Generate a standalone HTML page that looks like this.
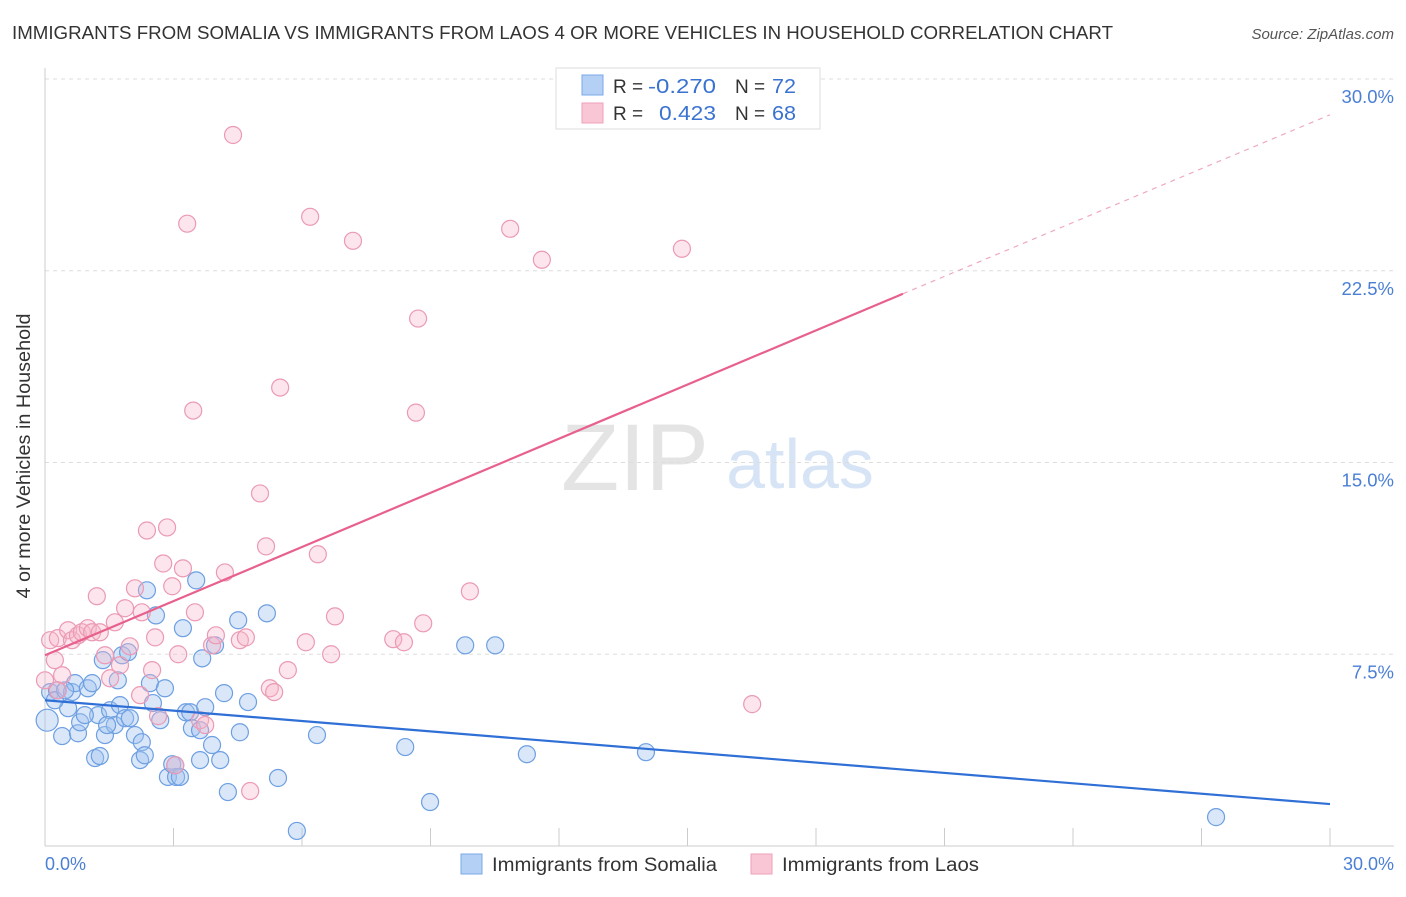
<!DOCTYPE html>
<html><head><meta charset="utf-8"><style>
body{margin:0;background:#fff;font-family:"Liberation Sans",sans-serif}
svg text{font-family:"Liberation Sans",sans-serif}
</style></head><body>
<svg id="chart" width="1406" height="892" xmlns="http://www.w3.org/2000/svg">
<text x="12" y="39" font-size="18" fill="#333" textLength="1101" lengthAdjust="spacingAndGlyphs">IMMIGRANTS FROM SOMALIA VS IMMIGRANTS FROM LAOS 4 OR MORE VEHICLES IN HOUSEHOLD CORRELATION CHART</text>
<text x="1394" y="39" font-size="15" fill="#555" font-style="italic" text-anchor="end">Source: ZipAtlas.com</text>
<text x="635" y="490" font-size="95" fill="#e4e4e4" font-family="Liberation Serif" text-anchor="middle">ZIP</text>
<text x="800" y="488" font-size="70" fill="#d6e4f5" text-anchor="middle">atlas</text>
<g id="grid"></g>
<g id="axes"></g>
<g id="pts"></g>
<g id="lines"></g>
<text x="30" y="456" font-size="19" fill="#333" text-anchor="middle" textLength="285" lengthAdjust="spacingAndGlyphs" transform="rotate(-90 30 456)">4 or more Vehicles in Household</text>
<text x="45" y="870" font-size="18" fill="#4a7fd4">0.0%</text>
<text x="1394" y="870" font-size="18" fill="#4a7fd4" text-anchor="end">30.0%</text>
<g>
<rect x="556" y="68" width="264" height="61" fill="#fff" stroke="#ddd"/>
<rect x="582" y="75" width="21" height="20" fill="#b5d0f5" stroke="#7aa8e8"/>
<rect x="582" y="103" width="21" height="20" fill="#f9c6d5" stroke="#eea0b8"/>
<text x="613" y="93" font-size="19" fill="#333">R = </text><text x="648" y="93" font-size="20" fill="#3a72d0" textLength="68" lengthAdjust="spacingAndGlyphs">-0.270</text>
<text x="735" y="93" font-size="19" fill="#333">N = </text><text x="772" y="93" font-size="20" fill="#3a72d0" textLength="24" lengthAdjust="spacingAndGlyphs">72</text>
<text x="613" y="120" font-size="19" fill="#333">R = </text><text x="659" y="120" font-size="20" fill="#3a72d0" textLength="57" lengthAdjust="spacingAndGlyphs">0.423</text>
<text x="735" y="120" font-size="19" fill="#333">N = </text><text x="772" y="120" font-size="20" fill="#3a72d0" textLength="24" lengthAdjust="spacingAndGlyphs">68</text>
</g>
<g>
<rect x="461" y="854" width="21" height="20" fill="#b5d0f5" stroke="#7aa8e8"/>
<text x="492" y="871" font-size="19" fill="#333" textLength="225" lengthAdjust="spacingAndGlyphs">Immigrants from Somalia</text>
<rect x="751" y="854" width="21" height="20" fill="#f9c6d5" stroke="#eea0b8"/>
<text x="782" y="871" font-size="19" fill="#333" textLength="197" lengthAdjust="spacingAndGlyphs">Immigrants from Laos</text>
</g>
</svg>
<script>
const yTicks=[7.5,15,22.5,30];
const yTickLabels=["7.5%","15.0%","22.5%","30.0%"];
const xTicks=[0,3,6,9,12,15,18,21,24,27,30];
const somaliaX=[0.05,0.12,0.28,0.40,0.54,0.63,0.70,0.77,0.82,1.00,1.10,1.17,1.24,1.28,1.35,1.40,1.52,1.63,1.70,1.75,1.80,1.87,1.94,1.98,2.10,2.22,2.26,2.33,2.38,2.45,2.52,2.59,2.69,2.80,2.87,2.97,3.06,3.15,3.22,3.29,3.39,3.43,3.53,3.62,3.67,3.74,3.90,3.97,4.09,4.18,4.27,4.51,4.55,4.74,5.18,5.44,5.88,6.35,8.41,8.99,9.81,10.51,11.25,14.03,27.34,0.23,0.47,0.93,1.45,3.04,3.62];
const somaliaY=[4.92,6.02,6.09,4.30,5.39,6.02,6.37,4.41,4.84,6.17,6.37,3.44,5.12,3.52,7.27,4.34,5.31,4.73,6.48,5.51,7.46,5.00,7.58,5.00,4.34,3.36,4.06,3.55,10.0,6.37,5.59,9.02,4.92,6.17,2.70,3.20,2.70,2.70,8.52,5.23,5.23,4.61,10.39,3.36,7.34,5.43,3.95,7.85,3.36,5.98,2.11,8.83,4.45,5.63,9.10,2.66,0.59,4.34,3.87,1.72,7.85,7.85,3.59,3.67,1.13,5.70,6.09,5.12,4.73,3.16,4.53];
const laosX=[0.12,0.23,0.30,0.40,0.54,0.63,0.77,0.86,1.00,1.10,1.21,1.28,1.40,1.52,1.63,1.75,1.87,1.98,2.10,2.22,2.26,2.38,2.50,2.57,2.64,2.76,2.85,2.97,3.11,3.22,3.32,3.46,3.50,3.62,3.74,3.90,3.99,4.20,4.39,4.55,4.69,5.02,5.16,5.25,5.35,5.49,5.67,6.09,6.19,6.37,6.68,6.77,7.19,8.13,8.38,8.71,8.66,8.83,9.92,10.86,11.60,14.87,16.51,4.79,3.04,0.30,0.0];
const laosY=[8.05,7.27,8.13,6.68,8.44,8.05,8.24,8.36,8.52,8.36,9.77,8.36,7.46,6.56,8.75,7.07,9.30,7.81,10.08,5.90,9.14,12.34,6.88,8.16,5.08,11.05,12.46,10.16,7.50,10.86,24.34,17.03,9.14,4.92,4.73,7.85,8.24,10.70,27.81,8.05,8.16,13.79,11.72,6.17,6.02,17.93,6.88,7.97,24.61,11.41,7.50,8.98,23.67,8.09,7.97,20.63,16.95,8.71,9.96,24.14,22.93,23.36,5.55,2.15,3.16,6.09,6.48];
const somaliaTrend=[5.7,1.64];
const laosTrend=[7.46,21.6,28.6];
const laosTrendX=[0,20.03,30];
const NS="http://www.w3.org/2000/svg";
const sx=v=>45+v*(1285/30), sy=v=>846-v*(767/30);
function mk(t,a,p){const e=document.createElementNS(NS,t);for(const k in a)e.setAttribute(k,a[k]);p.appendChild(e);return e;}
const grid=document.getElementById('grid'),axes=document.getElementById('axes'),pts=document.getElementById('pts'),lines=document.getElementById('lines');
yTicks.forEach((v,i)=>{
 const l=mk('line',{x1:45,x2:1394,y1:sy(v),y2:sy(v),stroke:'#ddd','stroke-dasharray':'4,4'},grid);
 
 
 const t=mk('text',{x:1394,y:sy(v)+24,'font-size':18.5,fill:'#4a7fd4','text-anchor':'end'},grid);
 t.textContent=yTickLabels[i];
 
 
});
const xa=mk('line',{x1:45,x2:1394,y1:846,y2:846,stroke:'#ccc'},axes);


const ya=mk('line',{x1:45,x2:45,y1:68,y2:846,stroke:'#ccc'},axes);


xTicks.forEach(v=>{
 const t=mk('line',{x1:sx(v),x2:sx(v),y1:828,y2:846,stroke:'#ccc'},axes);
 
 
});
somaliaX.forEach((x,i)=>{
 const c=mk('circle',{cx:sx(x),cy:sy(somaliaY[i]),r:i==0?11:8.5,fill:'rgba(160,196,240,0.4)',stroke:'#6d9fe2','stroke-width':1.2},pts);
 
 
});
laosX.forEach((x,i)=>{
 const c=mk('circle',{cx:sx(x),cy:sy(laosY[i]),r:8.5,fill:'rgba(245,180,200,0.35)',stroke:'#eb9ab4','stroke-width':1.2},pts);
 
 
});
const bl=mk('line',{x1:sx(0),y1:sy(somaliaTrend[0]),x2:sx(30),y2:sy(somaliaTrend[1]),stroke:'#2f6fd6','stroke-width':2.2},lines);


const pl=mk('line',{x1:sx(laosTrendX[0]),y1:sy(laosTrend[0]),x2:sx(laosTrendX[1]),y2:sy(laosTrend[1]),stroke:'#e8608c','stroke-width':2.2},lines);


const pd=mk('line',{x1:sx(laosTrendX[1]),y1:sy(laosTrend[1]),x2:sx(laosTrendX[2]),y2:sy(laosTrend[2]),stroke:'#f0a8bf','stroke-width':1.2,'stroke-dasharray':'5,5'},lines);


</script>
</body></html>
